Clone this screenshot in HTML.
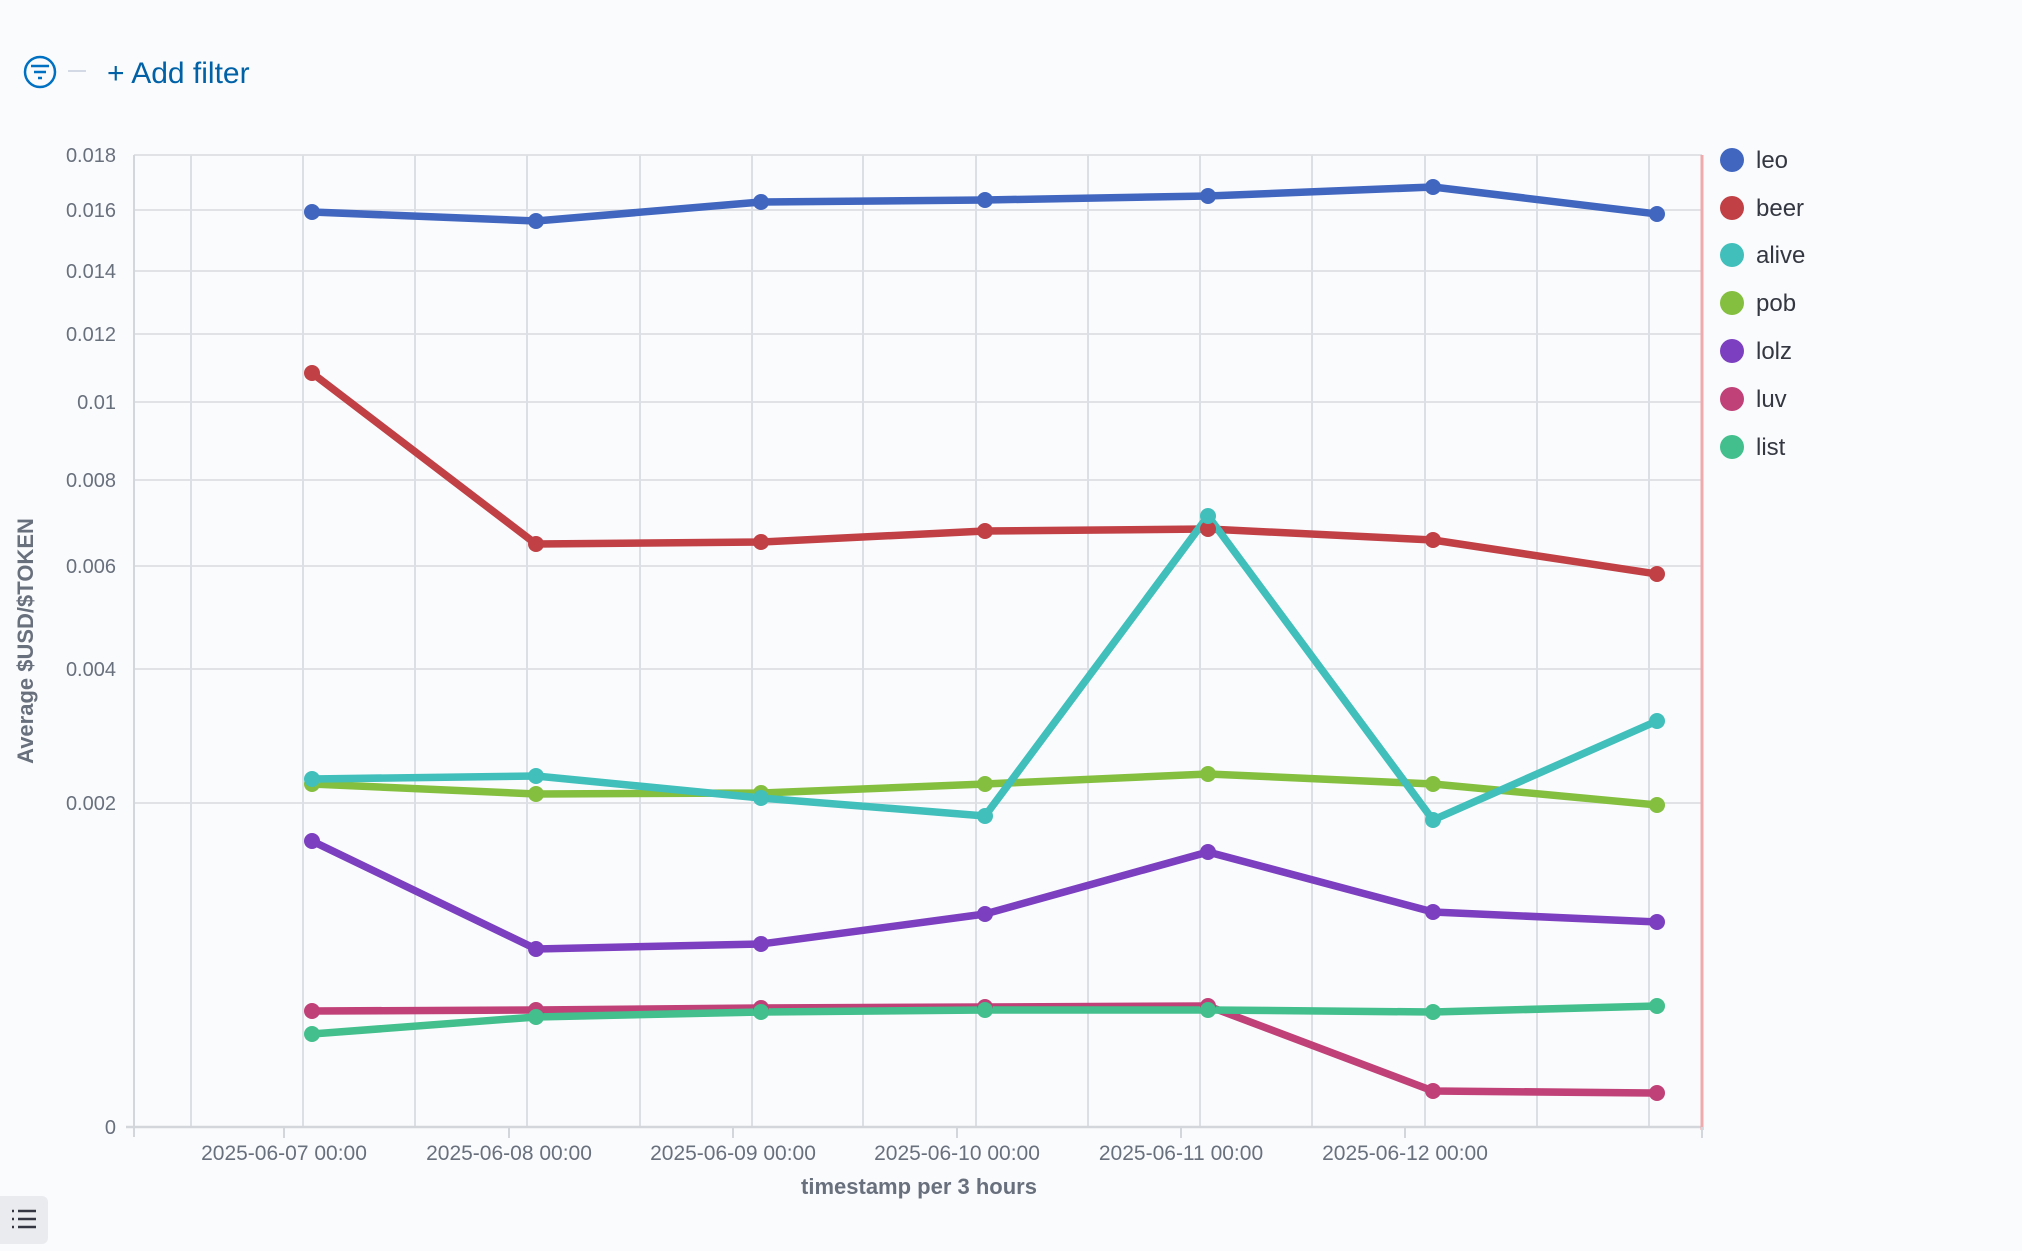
<!DOCTYPE html>
<html><head><meta charset="utf-8"><style>
body{margin:0;background:#fafbfd;font-family:"Liberation Sans",sans-serif;}
</style></head><body>
<svg width="2022" height="1246" viewBox="0 0 2022 1246" xmlns="http://www.w3.org/2000/svg" font-family="Liberation Sans, sans-serif">
<rect width="2022" height="1246" fill="#fafbfd"/>
<circle cx="40" cy="72" r="15" fill="none" stroke="#0071c2" stroke-width="2.5"/>
<line x1="31" y1="66" x2="49" y2="66" stroke="#0071c2" stroke-width="2.5"/>
<line x1="34" y1="72" x2="46" y2="72" stroke="#0071c2" stroke-width="2.5"/>
<line x1="38" y1="78" x2="42" y2="78" stroke="#0071c2" stroke-width="2.5"/>
<line x1="68" y1="71" x2="86" y2="71" stroke="#d3dae6" stroke-width="2"/>
<text x="107" y="83" font-size="30" fill="#0061a6">+ Add filter</text>
<g stroke="#e0e2e6" stroke-width="2">
<line x1="134" y1="155" x2="1702" y2="155"/><line x1="134" y1="210" x2="1702" y2="210"/>
<line x1="134" y1="271" x2="1702" y2="271"/><line x1="134" y1="334" x2="1702" y2="334"/>
<line x1="134" y1="402" x2="1702" y2="402"/><line x1="134" y1="480" x2="1702" y2="480"/>
<line x1="134" y1="566" x2="1702" y2="566"/><line x1="134" y1="669" x2="1702" y2="669"/>
<line x1="134" y1="803" x2="1702" y2="803"/>
</g>
<g stroke="#dcdfe4" stroke-width="2">
<line x1="191" y1="155" x2="191" y2="1127"/><line x1="303" y1="155" x2="303" y2="1127"/>
<line x1="415" y1="155" x2="415" y2="1127"/><line x1="527" y1="155" x2="527" y2="1127"/>
<line x1="640" y1="155" x2="640" y2="1127"/><line x1="752" y1="155" x2="752" y2="1127"/>
<line x1="863" y1="155" x2="863" y2="1127"/><line x1="976" y1="155" x2="976" y2="1127"/>
<line x1="1088" y1="155" x2="1088" y2="1127"/><line x1="1200" y1="155" x2="1200" y2="1127"/>
<line x1="1312" y1="155" x2="1312" y2="1127"/><line x1="1425" y1="155" x2="1425" y2="1127"/>
<line x1="1537" y1="155" x2="1537" y2="1127"/><line x1="1649" y1="155" x2="1649" y2="1127"/>
</g>
<line x1="134" y1="155" x2="134" y2="1137" stroke="#d3d6db" stroke-width="2"/>
<line x1="126" y1="1127" x2="1702" y2="1127" stroke="#d3d6db" stroke-width="2.5"/>
<line x1="1702" y1="155" x2="1702" y2="1130" stroke="#eeaaac" stroke-width="3"/>
<g stroke="#d3d6db" stroke-width="2">
<line x1="284" y1="1127" x2="284" y2="1138"/><line x1="509" y1="1127" x2="509" y2="1138"/>
<line x1="733" y1="1127" x2="733" y2="1138"/><line x1="957" y1="1127" x2="957" y2="1138"/>
<line x1="1181" y1="1127" x2="1181" y2="1138"/><line x1="1405" y1="1127" x2="1405" y2="1138"/>
<line x1="1702" y1="1127" x2="1702" y2="1138"/>
</g>
<g font-size="20" fill="#69707d" text-anchor="end">
<text x="116" y="162">0.018</text><text x="116" y="217">0.016</text><text x="116" y="278">0.014</text>
<text x="116" y="341">0.012</text><text x="116" y="409">0.01</text><text x="116" y="487">0.008</text>
<text x="116" y="573">0.006</text><text x="116" y="676">0.004</text><text x="116" y="810">0.002</text>
<text x="116" y="1134">0</text>
</g>
<g font-size="21" fill="#69707d" text-anchor="middle">
<text x="284" y="1160">2025-06-07 00:00</text><text x="509" y="1160">2025-06-08 00:00</text>
<text x="733" y="1160">2025-06-09 00:00</text><text x="957" y="1160">2025-06-10 00:00</text>
<text x="1181" y="1160">2025-06-11 00:00</text><text x="1405" y="1160">2025-06-12 00:00</text>
</g>
<text x="919" y="1194" font-size="22" font-weight="bold" fill="#69707d" text-anchor="middle">timestamp per 3 hours</text>
<text transform="translate(33,641) rotate(-90)" font-size="22" font-weight="bold" fill="#69707d" text-anchor="middle">Average $USD/$TOKEN</text>
<g fill="none" stroke-width="7.5" stroke-linejoin="round">
<polyline stroke="#4066c0" points="312,212 536,221 761,202 985,200 1208,196 1433,187 1657,214"/>
<polyline stroke="#c04045" points="312,373 536,544 761,542 985,531 1208,529 1433,540 1657,574"/>
<polyline stroke="#c04177" points="312,1011 536,1010 761,1008 985,1007 1208,1006 1433,1091 1657,1093"/>
<polyline stroke="#42bf8c" points="312,1034 536,1017 761,1012 985,1010 1208,1010 1433,1012 1657,1006"/>
<polyline stroke="#7b3fbf" points="312,841 536,949 761,944 985,914 1208,852 1433,912 1657,922"/>
<polyline stroke="#84bf3f" points="312,784 536,794 761,793 985,784 1208,774 1433,784 1657,805"/>
<polyline stroke="#40bfbb" points="312,779 536,776 761,798 985,816 1208,516 1433,820 1657,721"/>
</g>
<g fill="#4066c0"><circle cx="312" cy="212" r="8"/><circle cx="536" cy="221" r="8"/><circle cx="761" cy="202" r="8"/><circle cx="985" cy="200" r="8"/><circle cx="1208" cy="196" r="8"/><circle cx="1433" cy="187" r="8"/><circle cx="1657" cy="214" r="8"/></g>
<g fill="#c04045"><circle cx="312" cy="373" r="8"/><circle cx="536" cy="544" r="8"/><circle cx="761" cy="542" r="8"/><circle cx="985" cy="531" r="8"/><circle cx="1208" cy="529" r="8"/><circle cx="1433" cy="540" r="8"/><circle cx="1657" cy="574" r="8"/></g>
<g fill="#c04177"><circle cx="312" cy="1011" r="8"/><circle cx="536" cy="1010" r="8"/><circle cx="761" cy="1008" r="8"/><circle cx="985" cy="1007" r="8"/><circle cx="1208" cy="1006" r="8"/><circle cx="1433" cy="1091" r="8"/><circle cx="1657" cy="1093" r="8"/></g>
<g fill="#42bf8c"><circle cx="312" cy="1034" r="8"/><circle cx="536" cy="1017" r="8"/><circle cx="761" cy="1012" r="8"/><circle cx="985" cy="1010" r="8"/><circle cx="1208" cy="1010" r="8"/><circle cx="1433" cy="1012" r="8"/><circle cx="1657" cy="1006" r="8"/></g>
<g fill="#7b3fbf"><circle cx="312" cy="841" r="8"/><circle cx="536" cy="949" r="8"/><circle cx="761" cy="944" r="8"/><circle cx="985" cy="914" r="8"/><circle cx="1208" cy="852" r="8"/><circle cx="1433" cy="912" r="8"/><circle cx="1657" cy="922" r="8"/></g>
<g fill="#84bf3f"><circle cx="312" cy="784" r="8"/><circle cx="536" cy="794" r="8"/><circle cx="761" cy="793" r="8"/><circle cx="985" cy="784" r="8"/><circle cx="1208" cy="774" r="8"/><circle cx="1433" cy="784" r="8"/><circle cx="1657" cy="805" r="8"/></g>
<g fill="#40bfbb"><circle cx="312" cy="779" r="8"/><circle cx="536" cy="776" r="8"/><circle cx="761" cy="798" r="8"/><circle cx="985" cy="816" r="8"/><circle cx="1208" cy="516" r="8"/><circle cx="1433" cy="820" r="8"/><circle cx="1657" cy="721" r="8"/></g>
<g font-size="24" fill="#343741">
<circle cx="1732" cy="160" r="12" fill="#4066c0"/><text x="1756" y="168">leo</text>
<circle cx="1732" cy="208" r="12" fill="#c04045"/><text x="1756" y="216">beer</text>
<circle cx="1732" cy="255" r="12" fill="#40bfbb"/><text x="1756" y="263">alive</text>
<circle cx="1732" cy="303" r="12" fill="#84bf3f"/><text x="1756" y="311">pob</text>
<circle cx="1732" cy="351" r="12" fill="#7b3fbf"/><text x="1756" y="359">lolz</text>
<circle cx="1732" cy="399" r="12" fill="#c04177"/><text x="1756" y="407">luv</text>
<circle cx="1732" cy="447" r="12" fill="#42bf8c"/><text x="1756" y="455">list</text>
</g>
<rect x="-6" y="1196" width="54" height="48" rx="6" fill="#e9ebee"/>
<g stroke="#343741" stroke-width="2.5">
<line x1="12" y1="1211" x2="14" y2="1211"/><line x1="18" y1="1211" x2="36" y2="1211"/>
<line x1="12" y1="1219" x2="14" y2="1219"/><line x1="18" y1="1219" x2="36" y2="1219"/>
<line x1="12" y1="1227" x2="14" y2="1227"/><line x1="18" y1="1227" x2="36" y2="1227"/>
</g>
</svg>
</body></html>
